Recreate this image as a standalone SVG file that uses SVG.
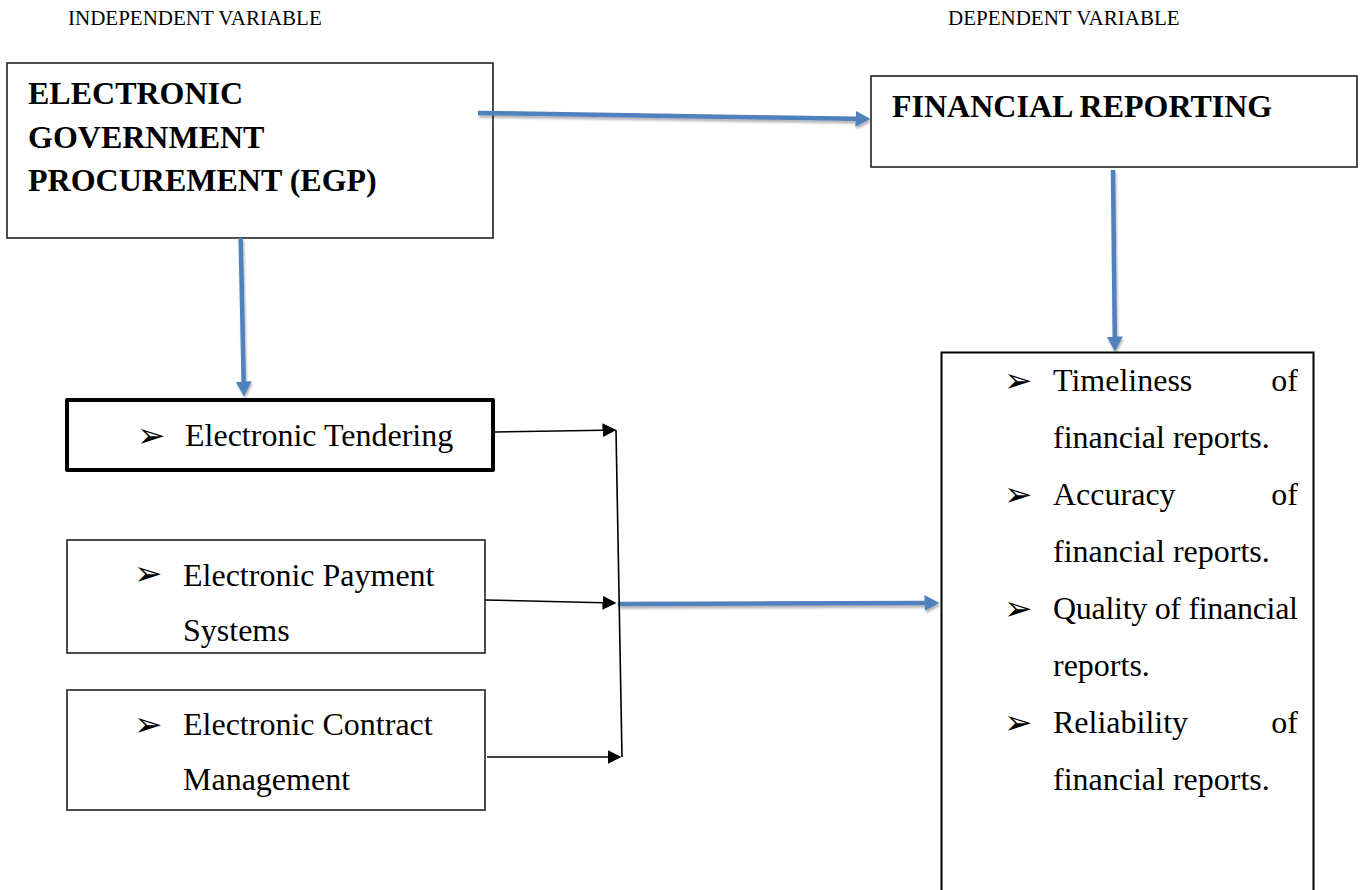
<svg xmlns="http://www.w3.org/2000/svg" width="1360" height="890" viewBox="0 0 1360 890">
  <style>
    .t { font-family: "Liberation Serif", "Times New Roman", serif; fill: #000; }
    .hdr { font-size: 21px; }
    .big { font-size: 32px; font-weight: bold; }
    .item { font-size: 32px; }
    .bul { font-family: "DejaVu Sans", sans-serif; font-size: 34px; fill: #000; }
    .box { fill: #fff; stroke: #222; stroke-width: 1.6; }
    .thick { fill: #fff; stroke: #000; stroke-width: 4; stroke-linejoin: round; }
    .blue { fill: none; stroke: #4F81BD; stroke-width: 4.5; }
    .blk { fill: none; stroke: #000; stroke-width: 1.6; }
  </style>
  <defs>
    <marker id="bh" markerUnits="userSpaceOnUse" viewBox="0 0 15 16" markerWidth="15" markerHeight="16" refX="0.5" refY="8" orient="auto">
      <path d="M0,0 L15,8 L0,16 z" fill="#4F81BD"/>
    </marker>
    <marker id="kh" markerUnits="userSpaceOnUse" viewBox="0 0 14 14" markerWidth="14" markerHeight="14" refX="0.5" refY="7" orient="auto">
      <path d="M0,0 L14,7 L0,14 z" fill="#000"/>
    </marker>
    <filter id="sh" filterUnits="userSpaceOnUse" x="0" y="0" width="1360" height="890">
      <feDropShadow dx="1" dy="2.5" stdDeviation="1.2" flood-color="#000" flood-opacity="0.3"/>
    </filter>
  </defs>

  <g id="labels">
    <text class="t hdr" x="68" y="25">INDEPENDENT VARIABLE</text>
    <text class="t hdr" x="948" y="25">DEPENDENT VARIABLE</text>
  </g>

  <g id="egp">
    <rect class="box" x="7" y="63" width="486" height="175"/>
    <text class="t big" x="28" y="104">ELECTRONIC</text>
    <text class="t big" x="28" y="147.5">GOVERNMENT</text>
    <text class="t big" x="28" y="191">PROCUREMENT (EGP)</text>
  </g>

  <g id="financial-reporting">
    <rect class="box" x="871" y="76" width="486" height="91"/>
    <text class="t big" x="892" y="117">FINANCIAL REPORTING</text>
  </g>

  <g id="tendering">
    <rect class="thick" x="67" y="400" width="426" height="70"/>
    <text class="bul" x="137" y="447">➢</text>
    <text class="t item" x="185" y="446">Electronic Tendering</text>
  </g>

  <g id="payment">
    <rect class="box" x="67" y="540" width="418" height="113"/>
    <text class="bul" x="134" y="585">➢</text>
    <text class="t item" x="183" y="586">Electronic Payment</text>
    <text class="t item" x="183" y="641">Systems</text>
  </g>

  <g id="contract">
    <rect class="box" x="67" y="690" width="418" height="120"/>
    <text class="bul" x="134" y="736">➢</text>
    <text class="t item" x="183" y="735">Electronic Contract</text>
    <text class="t item" x="183" y="790">Management</text>
  </g>

  <g id="indicators">
    <rect x="941.5" y="352.5" width="372" height="560" fill="#fff" stroke="#000" stroke-width="2"/>
    <text class="bul" x="1004" y="392">➢</text>
    <text class="t item" x="1053" y="391">Timeliness</text>
    <text class="t item" x="1298" y="391" text-anchor="end">of</text>
    <text class="t item" x="1053" y="448">financial reports.</text>
    <text class="bul" x="1004" y="506">➢</text>
    <text class="t item" x="1053" y="505">Accuracy</text>
    <text class="t item" x="1298" y="505" text-anchor="end">of</text>
    <text class="t item" x="1053" y="562">financial reports.</text>
    <text class="bul" x="1004" y="620">➢</text>
    <text class="t item" x="1053" y="619" textLength="245" lengthAdjust="spacing">Quality of financial</text>
    <text class="t item" x="1053" y="676">reports.</text>
    <text class="bul" x="1004" y="734">➢</text>
    <text class="t item" x="1053" y="733">Reliability</text>
    <text class="t item" x="1298" y="733" text-anchor="end">of</text>
    <text class="t item" x="1053" y="790">financial reports.</text>
  </g>

  <g id="connectors">
    <g filter="url(#sh)">
      <path class="blue" d="M478,113 L856,118.8" marker-end="url(#bh)"/>
      <path class="blue" d="M1113,170 L1114.8,337" marker-end="url(#bh)"/>
      <path class="blue" d="M240.7,238 L243.7,382" marker-end="url(#bh)"/>
      <path class="blue" d="M618,604 L925,603" marker-end="url(#bh)"/>
    </g>
    <path class="blk" d="M495,432 L603,430.2" marker-end="url(#kh)"/>
    <path class="blk" d="M485,600 L603,602.7" marker-end="url(#kh)"/>
    <path class="blk" d="M487,757 L608,757" marker-end="url(#kh)"/>
    <path class="blk" d="M616,430 L622,757"/>
  </g>
</svg>
